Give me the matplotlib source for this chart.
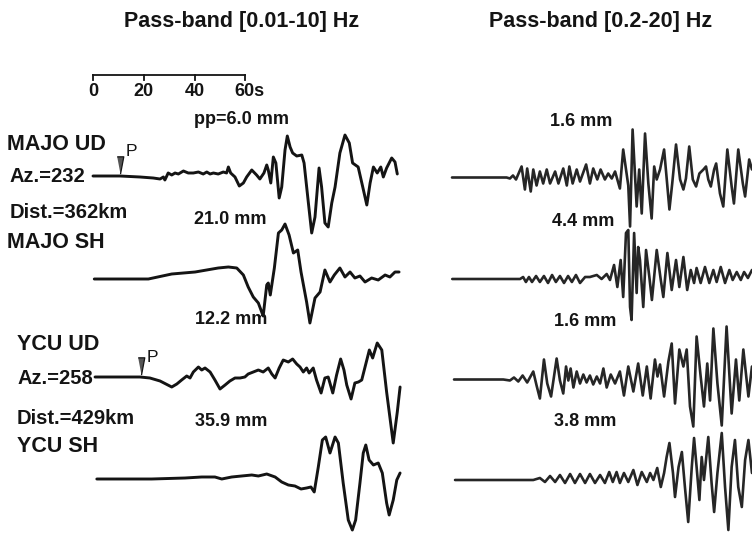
import matplotlib
matplotlib.use("Agg")
import matplotlib.pyplot as plt

plt.rcParams['font.family'] = ['Liberation Sans', 'DejaVu Sans']

# ---------------- data (time in s, relative amplitude) ----------------
# Pass-band [0.01-10] Hz
majo_ud_lp_t = [0, 10.6, 18.5, 23.7, 26.4, 27.7, 28.3, 29.6, 31.0, 32.3, 33.6, 35.6, 37.5, 39.5, 41.5,
                43.4, 44.8, 46.1, 47.4, 49.3, 51.3, 52.6, 53.3, 54.2, 55.9, 57.6, 59.2, 60.5, 62.5, 64.4,
                65.7, 67.3, 68.4, 69.0, 70.0, 71.0, 72.0, 73.3, 74.3, 75.6, 76.5, 77.6, 78.6, 80.2, 82.2,
                83.1, 84.8, 86.1, 87.4, 89.0, 90.0, 91.3, 92.6, 94.0, 95.3, 97.2, 99.2, 100.9, 102.2, 104.4,
                106.2, 107.8, 109.1, 110.4, 111.9, 113.3, 114.3, 115.6, 117.6, 118.9, 119.8]
majo_ud_lp_a = [0, 0, -1, -2, -3, -1, -4, 3, 1, 3, 2, 5, 3, 3, 4, 2, 4, 2, 3, 2, 4, 3, 9, 3, -1,
                -10, -7, -1, 6, 1, -3, 3, 11, 6, -7, 19, 13, -22, -11, 26, 40, 29, 23, 20, 21, 13, -27, -57, -41, 8,
                -11, -47, -51, -27, -11, 23, 41, 33, 13, 9, -11, -29, -7, 9, 3, 9, -1, 8, 18, 14, 2]

majo_sh_lp_t = [0.5, 21.8, 31.0, 40.2, 49.3, 53.3, 56.6, 59.2, 61.1, 63.1, 65.1, 67.0, 68.4, 69.0, 69.8,
                71.4, 73.0, 74.3, 75.6, 77.2, 78.9, 80.6, 81.9, 84.1, 85.4, 87.4, 89.4, 91.3, 93.3, 95.0,
                97.2, 99.2, 101.2, 103.1, 105.1, 107.1, 109.7, 112.3, 115.0, 116.9, 118.9, 120.5]
majo_sh_lp_a = [0, 0, 5, 7, 11, 12, 11, 4, -8, -18, -24, -37, -6, -4, -16, 11, 46, 49, 55, 44,
                26, 29, 7, -23, -44, -19, -13, 9, -3, 4, 11, 2, 7, 1, 3, -3, 1, -1, 4, 2, 7, 7]

ycu_ud_lp_t = [0.8, 18.5, 22.4, 26.4, 31.0, 33.0, 34.9, 36.9, 38.2, 39.5, 41.5, 42.8, 44.1, 46.1, 48.0,
               50.0, 52.0, 53.9, 55.9, 57.9, 59.8, 61.1, 63.1, 65.1, 67.0, 69.0, 70.4, 71.7, 73.3, 74.9,
               76.9, 78.6, 80.2, 81.5, 82.8, 84.1, 85.1, 86.7, 88.0, 89.8, 91.3, 92.6, 94.4, 95.9, 97.5,
               98.8, 99.9, 101.6, 103.1, 104.5, 105.8, 107.1, 108.8, 110.1, 111.9, 113.7, 115.6, 118.2, 119.8, 120.9]
ycu_ud_lp_a = [0, 0, -1, -4, -10, -7, -3, 1, -1, 5, 10, 7, 9, 5, -3, -12, -8, -4, -1, -1,
               0, 3, 5, 7, 5, 9, 3, -1, 9, 17, 15, 18, 13, 10, 5, 9, 4, 9, -3, -16,
               -1, 0, -16, 2, 18, 7, -8, -22, -6, -5, -3, 10, 27, 19, 34, 27, -15, -66, -35, -10]

ycu_sh_lp_t = [1.5, 23.1, 36.2, 42.8, 48.0, 50.7, 54.6, 58.5, 62.5, 65.1, 68.4, 71.7, 74.3, 76.9, 79.5,
               81.9, 84.1, 85.8, 87.1, 88.7, 90.3, 91.6, 93.3, 95.3, 96.6, 98.5, 100.5, 102.1, 103.4, 105.1,
               106.4, 107.4, 108.7, 110.4, 112.3, 113.9, 115.6, 116.6, 118.2, 119.6, 120.9]
ycu_sh_lp_a = [0, 0, 1, 2, 2, 0, 2, 3, 4, 3, 5, 2, -3, -6, -7, -10, -9, -8, -13, 12,
               39, 42, 26, 42, 36, -4, -41, -51, -41, -4, 26, 34, 19, 14, 16, 6, -24, -36, -21, -1, 6]

# Pass-band [0.2-20] Hz
majo_ud_hp_t = [0, 21.5, 22.8, 24.0, 25.2, 27.4, 28.7, 29.6, 31.0, 32.0, 33.3, 34.6, 35.9, 37.3, 38.6,
                40.6, 41.9, 43.8, 45.2, 46.2, 47.5, 49.1, 50.4, 52.8, 54.3, 55.6, 57.2, 58.5, 60.2, 61.5,
                62.9, 64.2, 66.1, 67.4, 69.4, 70.1, 71.1, 72.7, 73.7, 74.7, 76.0, 77.3, 78.6, 79.6, 80.6,
                81.9, 83.5, 84.8, 85.6, 86.7, 88.2, 89.8, 91.1, 92.1, 93.4, 94.8, 96.1, 97.4, 99.0, 100.0,
                100.9, 101.9, 103.2, 104.0, 105.5, 106.8, 108.4, 110.1, 111.0, 112.7, 114.5, 115.4, 117.0, 118.1]
majo_ud_hp_a = [0, 0, -1, 2, -2, 11, -12, 9, -14, 8, -8, 6, -6, 8, -6, 6, -6, 9, -8, 11,
                -6, 8, -4, 13, -6, 9, -2, 8, -2, 4, -1, 6, -11, 28, -8, -49, 48, -29, 8, -36,
                44, -6, -41, 11, -2, 8, 28, -9, -32, -6, 33, -2, -12, -1, 31, -2, -9, 4, 8, 11,
                -2, -9, 8, 14, -16, -29, 28, -9, -26, 28, -6, -19, 18, 8]

majo_sh_hp_t = [0.1, 26.8, 28.0, 29.1, 30.3, 31.5, 33.1, 34.6, 36.2, 37.8, 39.4, 40.9, 42.5, 44.1, 45.7,
                47.2, 48.8, 50.4, 52.4, 54.3, 57.0, 58.9, 60.9, 62.2, 63.8, 65.1, 66.4, 67.4, 68.5, 69.4,
                70.1, 70.7, 71.7, 72.7, 73.3, 74.0, 75.3, 76.4, 77.7, 78.7, 80.6, 82.2, 83.2, 84.8, 86.5,
                88.2, 89.5, 91.1, 92.6, 94.0, 95.3, 96.3, 97.9, 99.6, 101.3, 102.9, 104.2, 105.8, 107.5, 109.2,
                110.5, 112.1, 113.7, 115.0, 116.5, 118.1]
majo_sh_hp_a = [0, 0, 2, -3, 2, -3, 3, -3, 3, -4, 4, -3, 3, -4, 3, -3, 4, -4, 2, 2,
                4, 0, 5, -1, 14, -8, 19, -18, 46, 49, -28, -41, 46, -14, 32, 19, -28, 29, 2, -21,
                29, -1, -18, 26, -11, 19, -8, 22, -11, 9, -4, 11, -4, 12, -4, 9, -3, 12, -4, 9,
                -1, 7, -1, 7, 1, 9]

ycu_ud_hp_t = [0.8, 20.2, 22.8, 24.4, 26.1, 27.8, 29.6, 32.0, 33.3, 34.6, 36.2, 37.5, 39.0, 41.2, 42.5,
               43.8, 44.9, 45.8, 46.7, 47.8, 49.1, 50.4, 51.7, 53.0, 54.3, 55.6, 57.0, 58.3, 59.6, 60.9,
               62.5, 64.2, 66.1, 67.7, 69.4, 71.4, 73.3, 75.1, 76.7, 78.2, 79.9, 80.9, 81.9, 83.5, 85.2,
               86.5, 87.8, 89.5, 91.1, 92.4, 93.7, 95.0, 96.3, 97.9, 99.2, 100.5, 101.6, 102.9, 104.5, 106.2,
               108.1, 110.1, 111.8, 113.1, 114.7, 116.7, 118.1]
ycu_ud_hp_a = [0, 0, -1, 2, -2, 4, -3, 8, -6, -19, 20, -4, -17, 21, -1, -14, 13, -1, 11, -8,
               8, -4, 5, -3, 4, -5, 3, -4, 11, -8, 5, -4, 8, -16, 13, -12, 16, -16, 13, -19,
               20, 3, 15, -17, 18, 36, -24, 30, 13, 30, -27, -47, 43, 3, -27, 16, -21, 51, -4, -46,
               53, -34, 20, -21, 30, -17, 13]

ycu_sh_hp_t = [1.2, 32.0, 34.6, 36.6, 38.6, 40.6, 42.5, 44.5, 46.5, 48.4, 50.4, 52.4, 54.3, 56.3, 58.3,
               60.2, 61.9, 63.3, 64.8, 66.1, 67.7, 69.4, 71.4, 73.0, 74.7, 76.7, 78.0, 79.3, 80.8, 82.2,
               83.5, 84.5, 85.6, 87.0, 87.8, 89.2, 90.5, 91.7, 93.0, 94.4, 95.3, 96.3, 97.4, 98.3, 99.2,
               100.9, 102.2, 103.2, 104.5, 106.2, 107.5, 108.8, 110.1, 111.4, 112.7, 114.1, 115.4, 116.7, 118.1]
ycu_sh_hp_a = [0, 0, 2, -2, 4, -2, 5, -3, 6, -3, 6, -3, 6, -3, 5, -3, 8, -2, 8, -3,
               7, -2, 10, -5, 8, -2, 7, 0, 12, -7, 7, 23, 37, 7, -17, 13, 28, -7, -42, 13,
               42, 13, -20, 23, 0, 43, -3, -32, 7, 47, -7, -50, 13, 40, -7, -27, 20, 40, 7]

p_times = [10.6, 18.8]            # P arrival markers (MAJO UD, YCU UD)
scale_ticks = [0, 20, 40, 60]
scale_labels = ["0", "20", "40", "60s"]
station_labels = ["MAJO UD", "MAJO SH", "YCU UD", "YCU SH"]
info_labels = ["Az.=232", "Dist.=362km", "Az.=258", "Dist.=429km"]
amp_left = ["pp=6.0 mm", "21.0 mm", "12.2 mm", "35.9 mm"]
amp_right = ["1.6 mm", "4.4 mm", "1.6 mm", "3.8 mm"]
titles = ["Pass-band [0.01-10] Hz", "Pass-band [0.2-20] Hz"]

# ---------------- layout ----------------
W, H = 752, 534
PX_PER_S = 2.54
X0 = 93                     # pixel of time 0 (left panel)
RIGHT_OFFSET = (452 - X0) / PX_PER_S
base_left = [176, 279, 377, 479]
base_right = [177.5, 279, 379.5, 480]
ink = '#141414'

fig = plt.figure(figsize=(W / 100, H / 100), dpi=100)
ax = fig.add_axes([0, 0, 1, 1])
ax.set_xlim(-X0 / PX_PER_S, (W - X0) / PX_PER_S)
ax.set_ylim(H, 0)
ax.axis('off')

left = [(majo_ud_lp_t, majo_ud_lp_a), (majo_sh_lp_t, majo_sh_lp_a),
        (ycu_ud_lp_t, ycu_ud_lp_a), (ycu_sh_lp_t, ycu_sh_lp_a)]
right = [(majo_ud_hp_t, majo_ud_hp_a), (majo_sh_hp_t, majo_sh_hp_a),
         (ycu_ud_hp_t, ycu_ud_hp_a), (ycu_sh_hp_t, ycu_sh_hp_a)]

for (t, a), b in zip(left, base_left):
    ax.plot(t, [b - v for v in a], color=ink, lw=2.1, solid_joinstyle='round', solid_capstyle='round')
for (t, a), b in zip(right, base_right):
    ax.plot([RIGHT_OFFSET + v for v in t], [b - v for v in a], color='#262626', lw=1.9,
            solid_joinstyle='round', solid_capstyle='round')

# P arrival markers
tri = [(-0.38, 1), (0.38, 1), (0, -1)]
for pt, b in zip(p_times, [base_left[0], base_left[2]]):
    ax.plot([pt], [b - 11], marker=tri, markersize=12.5, markerfacecolor='#555555',
            markeredgecolor=ink, markeredgewidth=0.9, linestyle='none')
ax.text(p_times[0] + 4.6, base_left[0] - 24, "P", fontsize=12.5, ha='center', va='center', color=ink)
ax.text(p_times[1] + 4.4, base_left[2] - 20, "P", fontsize=12.5, ha='center', va='center', color=ink)

# time scale bar
ax.plot([scale_ticks[0], scale_ticks[-1]], [75, 75], color=ink, lw=1.3)
for tk, lb in zip(scale_ticks, scale_labels):
    ax.plot([tk, tk], [75, 80], color=ink, lw=1.3)
    if lb.endswith('s'):
        ax.text(tk - 4.4, 91, lb, fontsize=13, fontweight='bold', ha='left', va='center', color=ink)
    else:
        ax.text(tk, 91, lb, fontsize=13, fontweight='bold', ha='center', va='center', color=ink)

# text overlay in pixel units
lay = fig.add_axes([0, 0, 1, 1])
lay.set_xlim(0, W)
lay.set_ylim(H, 0)
lay.axis('off')
lay.patch.set_alpha(0)

lay.text(242, 22, titles[0], fontsize=15.5, fontweight='bold', ha='center', va='center', color=ink)
lay.text(601, 22, titles[1], fontsize=15.5, fontweight='bold', ha='center', va='center', color=ink)

st_pos = [(7, 145), (7, 243), (17, 345), (17, 447)]
for (x, y), s in zip(st_pos, station_labels):
    lay.text(x, y, s, fontsize=15.5, fontweight='bold', ha='left', va='center', color=ink)
info_pos = [(10, 176), (10, 213), (17, 378), (17, 418)]
for (x, y), s in zip(info_pos, info_labels):
    lay.text(x, y, s, fontsize=14.5, fontweight='bold', ha='left', va='center', color=ink)

amp_l_pos = [(241, 120), (230, 220), (231, 320), (231, 422)]
for (x, y), s in zip(amp_l_pos, amp_left):
    lay.text(x, y, s, fontsize=13, fontweight='bold', ha='center', va='center', color=ink)
amp_r_pos = [(581, 122), (583, 222), (585, 322), (585, 422)]
for (x, y), s in zip(amp_r_pos, amp_right):
    lay.text(x, y, s, fontsize=13, fontweight='bold', ha='center', va='center', color=ink)

fig.savefig('out.png', dpi=100, facecolor='white')
